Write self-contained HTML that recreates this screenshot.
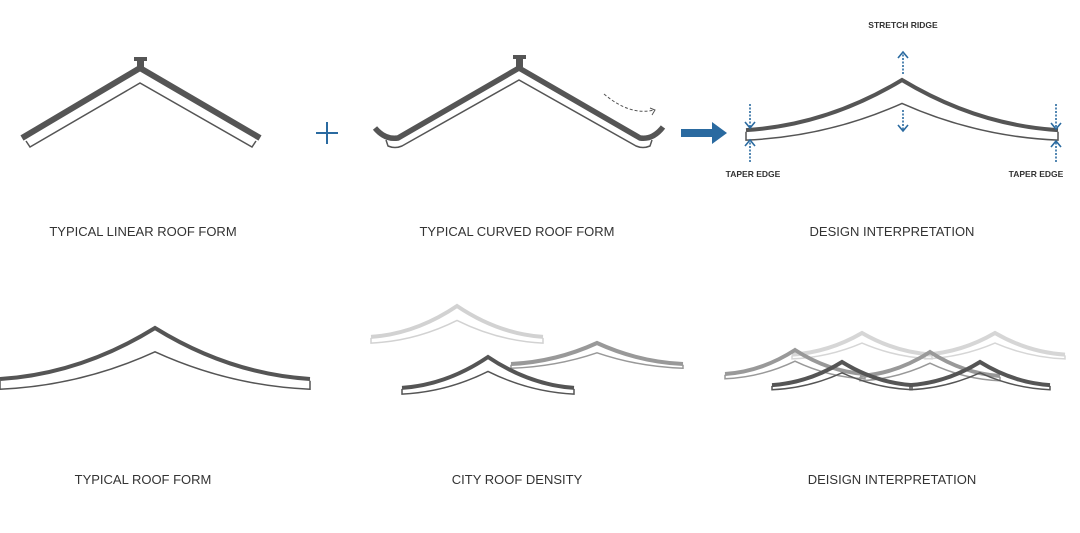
<!DOCTYPE html>
<html><head><meta charset="utf-8"><style>
html,body{margin:0;padding:0;background:#fff;}
svg{display:block}
.l{font-family:"Liberation Sans",sans-serif;font-size:13px;fill:#333;text-anchor:middle}
.s{font-family:"Liberation Sans",sans-serif;font-size:8.5px;font-weight:bold;fill:#333;text-anchor:middle}
</style></head><body>
<svg width="1080" height="533" viewBox="0 0 1080 533" xmlns="http://www.w3.org/2000/svg">
<defs>
<g id="roof">
<path d="M-100,30 Q-48,27 0,0 Q48,27 100,30" fill="none" stroke-width="4" vector-effect="non-scaling-stroke"/>
<path d="M-100,31 L-100,36 Q-48,34 0,14 Q48,34 100,36 L100,31" fill="none" stroke-width="1.5" vector-effect="non-scaling-stroke"/>
</g>
</defs>

<!-- linear roof -->
<rect x="134" y="57" width="13" height="4" fill="#555"/>
<rect x="137" y="60" width="7" height="8" fill="#555"/>
<path d="M22,138 L140,68 L260,138" fill="none" stroke="#555" stroke-width="6"/>
<path d="M26,141 L30,147 L140,83 L252,147 L256,141" fill="none" stroke="#555" stroke-width="1.5"/>

<!-- plus -->
<path d="M316,133 H338 M327,122 V144" stroke="#2a6aa0" stroke-width="2"/>

<!-- curved roof -->
<rect x="513" y="55" width="13" height="4" fill="#555"/>
<rect x="516" y="58" width="7" height="9" fill="#555"/>
<path d="M375,128 Q385,140 398,138 L519,68 L640,138 Q653,140 663,127" fill="none" stroke="#555" stroke-width="5.5"/>
<path d="M386,140 L388,146 Q395,149 402,146 L519,80 L636,146 Q643,149 650,146 L652,140" fill="none" stroke="#555" stroke-width="1.5"/>
<path d="M604,94 Q630,116 654,110" fill="none" stroke="#555" stroke-width="1" stroke-dasharray="3,2"/>
<path d="M650,108 L655,110 L652,115" fill="none" stroke="#555" stroke-width="1"/>

<!-- blue arrow -->
<path d="M681,129 H712 V122 L727,133 L712,144 V137 H681 Z" fill="#2a6aa0"/>

<!-- design interpretation -->
<g stroke="#555"><use href="#roof" transform="translate(902,80) scale(1.56,1.67)"/></g>
<g stroke="#2a6aa0" stroke-width="1.6" fill="none">
<g stroke-dasharray="2,1.5">
<path d="M750,104 V127"/>
<path d="M750,162 V141"/>
<path d="M903,74 V53"/>
<path d="M903,110 V131"/>
<path d="M1056,104 V128"/>
<path d="M1056,162 V142"/>
</g>
<path d="M745,122 L750,128 L755,122"/>
<path d="M745,146 L750,140 L755,146"/>
<path d="M898,58 L903,52 L908,58"/>
<path d="M898,125 L903,131 L908,125"/>
<path d="M1051,123 L1056,129 L1061,123"/>
<path d="M1051,147 L1056,141 L1061,147"/>
</g>
<text class="s" x="903" y="28">STRETCH RIDGE</text>
<text class="s" x="753" y="177">TAPER EDGE</text>
<text class="s" x="1036" y="177">TAPER EDGE</text>

<text class="l" x="143" y="236">TYPICAL LINEAR ROOF FORM</text>
<text class="l" x="517" y="236">TYPICAL CURVED ROOF FORM</text>
<text class="l" x="892" y="236">DESIGN INTERPRETATION</text>

<!-- bottom left -->
<g stroke="#555"><use href="#roof" transform="translate(155,328) scale(1.55,1.7)"/></g>

<!-- city density -->
<g stroke="#d2d2d2"><use href="#roof" transform="translate(457,306) scale(0.86,1.03)"/></g>
<g stroke="#999"><use href="#roof" transform="translate(597,343) scale(0.86,0.7)"/></g>
<g stroke="#555"><use href="#roof" transform="translate(488,357) scale(0.86,1.03)"/></g>

<!-- design interpretation bottom -->
<g stroke="#d6d6d6"><use href="#roof" transform="translate(862,333) scale(0.7,0.72)"/><use href="#roof" transform="translate(995,333) scale(0.7,0.72)"/></g>
<g stroke="#999"><use href="#roof" transform="translate(795,350) scale(0.7,0.8)"/><use href="#roof" transform="translate(930,352) scale(0.7,0.8)"/></g>
<g stroke="#555"><use href="#roof" transform="translate(842,362) scale(0.7,0.77)"/><use href="#roof" transform="translate(980,362) scale(0.7,0.77)"/></g>

<text class="l" x="143" y="484">TYPICAL ROOF FORM</text>
<text class="l" x="517" y="484">CITY ROOF DENSITY</text>
<text class="l" x="892" y="484">DEISIGN INTERPRETATION</text>
</svg>
</body></html>
